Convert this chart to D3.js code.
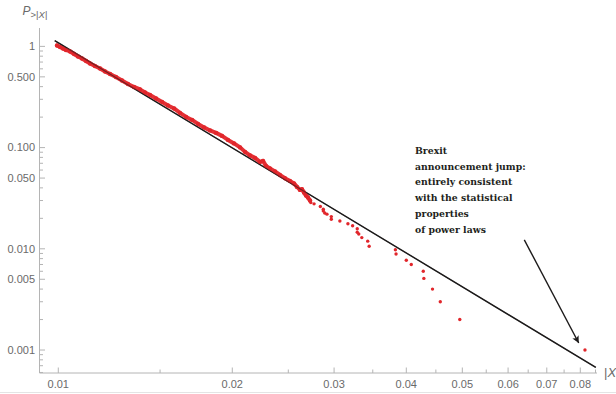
<!DOCTYPE html>
<html>
<head>
<meta charset="utf-8">
<script src="https://cdn.jsdelivr.net/npm/d3@7"></script>
<style>
  html, body { margin: 0; padding: 0; background: #fff; }
  svg { display: block; }
</style>
</head>
<body>
<svg id="chart" width="616" height="394"></svg>
<script>
// ---- data ----
// dense part of the empirical survival function
const denseX = [0.00995,0.01007,0.01019,0.01031,0.01048,0.01065,0.01082,0.01099,0.01117,0.01135,
  0.01157,0.01181,0.01205,0.01229,0.01258,0.01289,0.01320,0.01352,0.01385,0.01413,
  0.01441,0.01476,0.01512,0.01548,0.01586,0.01624,0.01664,0.01704,0.01745,0.01787,
  0.01830,0.01875,0.01920,0.01966,0.02014,0.02063,0.02104,0.02146,0.02189,0.02233,
  0.02260,0.02287,0.02324,0.02371,0.02418,0.02467,0.02516,0.02557,0.02588,0.02619,
  0.02640,0.02661,0.02683,0.02704,0.02726];
const denseP = [1.021,0.9865,0.9534,0.9215,0.8906,0.8414,0.7950,0.7597,0.7176,0.6779,
  0.6405,0.6051,0.5651,0.5339,0.4987,0.4606,0.4253,0.3974,0.3754,0.3507,
  0.3313,0.3060,0.2826,0.2610,0.2437,0.2201,0.2009,0.1877,0.1714,0.1583,
  0.1478,0.1397,0.1305,0.1191,0.1100,0.1005,0.0907,0.0838,0.0791,0.0722,
  0.0739,0.0660,0.0623,0.0582,0.0537,0.0499,0.0469,0.0443,0.0409,0.0382,
  0.0388,0.0360,0.0336,0.0321,0.0300];
// sparse tail points
const tailX = [0.02734,0.0277,0.0284,0.02874,0.02874,0.0289,0.02916,0.02967,0.02967,0.0307,
  0.0317,0.0323,0.0329,0.0329,0.0331,0.0335,0.0343,0.0345,0.0383,0.0384,
  0.0400,0.0408,0.0428,0.0429,0.0444,0.0458,0.0495,0.0815];
const tailP = [0.0286,0.0278,0.0262,0.0246,0.0237,0.0226,0.0220,0.0208,0.0196,0.0188,
  0.0177,0.0169,0.0158,0.0146,0.0140,0.0129,0.0119,0.0106,0.0098,0.0089,
  0.0077,0.0070,0.0060,0.0051,0.0040,0.0030,0.0020,0.0010];
// fitted power law line (endpoints)
const fitX = [0.00986, 0.0851];
const fitP = [1.138, 0.000673];
// annotation arrow (from, to)
const arrowX = [0.0640, 0.0795];
const arrowP = [0.01227, 0.001173];
// ticks
const xMajor = [0.01,0.02,0.03,0.04,0.05,0.06,0.07,0.08];
const xMajorLabels = ["0.01","0.02","0.03","0.04","0.05","0.06","0.07","0.08"];
const xMinor = [0.015,0.025,0.035,0.045,0.055,0.065,0.075,0.085];
const yMajor = [1,0.5,0.1,0.05,0.01,0.005,0.001];
const yMajorLabels = ["1","0.500","0.100","0.050","0.010","0.005","0.001"];
const yMinor = [0.9,0.8,0.7,0.6,0.4,0.3,0.2,0.09,0.08,0.07,0.06,0.04,0.03,0.02,
  0.009,0.008,0.007,0.006,0.004,0.003,0.002,0.0009,0.0008,0.0007,0.0006];
const noteLines = ["Brexit","announcement jump:","entirely consistent","with the statistical","properties","of power laws"];

// ---- drawing ----
const svg = d3.select("#chart");
const x = d3.scaleLog().domain([0.009279, 0.0855]).range([39.5, 597]);
const y = d3.scaleLog().domain([0.000593, 1.519]).range([373, 28]);

const axisColor = "#b4b4b4";
const labelColor = "#6a6a6a";
const font = "'Liberation Sans', Arial, sans-serif";

// bottom border line
svg.append("line").attr("x1",0).attr("x2",616).attr("y1",392.5).attr("y2",392.5)
  .attr("stroke","#e4e4e4").attr("stroke-width",1);

// axes
const xAxisG = svg.append("g").attr("transform","translate(0,373)");
xAxisG.append("line").attr("x1",x.range()[0]).attr("x2",x.range()[1])
  .attr("stroke",axisColor).attr("stroke-width",1);
xAxisG.selectAll("line.maj").data(xMajor).join("line").attr("class","maj")
  .attr("x1",d=>x(d)).attr("x2",d=>x(d)).attr("y1",0).attr("y2",-5.5)
  .attr("stroke",axisColor);
xAxisG.selectAll("line.min").data(xMinor).join("line").attr("class","min")
  .attr("x1",d=>x(d)).attr("x2",d=>x(d)).attr("y1",0).attr("y2",-3.5)
  .attr("stroke",axisColor);
xAxisG.selectAll("text").data(xMajor).join("text")
  .attr("x",d=>x(d)).attr("y",14.5).attr("text-anchor","middle")
  .attr("font-family",font).attr("font-size",11).attr("fill",labelColor)
  .text((d,i)=>xMajorLabels[i]);

const yAxisG = svg.append("g").attr("transform","translate(39.5,0)");
yAxisG.append("line").attr("y1",y.range()[0]).attr("y2",y.range()[1])
  .attr("stroke",axisColor).attr("stroke-width",1);
yAxisG.selectAll("line.maj").data(yMajor).join("line").attr("class","maj")
  .attr("y1",d=>y(d)).attr("y2",d=>y(d)).attr("x1",0).attr("x2",5.5)
  .attr("stroke",axisColor);
yAxisG.selectAll("line.min").data(yMinor).join("line").attr("class","min")
  .attr("y1",d=>y(d)).attr("y2",d=>y(d)).attr("x1",0).attr("x2",3.5)
  .attr("stroke",axisColor);
yAxisG.selectAll("text").data(yMajor).join("text")
  .attr("x",-4.5).attr("y",d=>y(d)).attr("dy","0.35em").attr("text-anchor","end")
  .attr("font-family",font).attr("font-size",11).attr("fill",labelColor)
  .text((d,i)=>yMajorLabels[i]);

// axis titles
const yt = svg.append("text").attr("x",22.5).attr("y",15)
  .attr("font-family",font).attr("fill",labelColor);
yt.append("tspan").attr("font-size",12).attr("font-style","italic").text("P");
yt.append("tspan").attr("font-size",9.5).attr("dy",3).text(">|");
yt.append("tspan").attr("font-size",9.5).attr("font-style","italic").text("X");
yt.append("tspan").attr("font-size",9.5).text("|");

const xt = svg.append("text").attr("x",604).attr("y",377)
  .attr("font-family",font).attr("font-size",13).attr("fill",labelColor);
xt.append("tspan").text("|");
xt.append("tspan").attr("font-style","italic").text("X");
xt.append("tspan").text("|");

// fit line
const red = "#e1262b";
svg.append("line")
  .attr("x1",x(fitX[0])).attr("y1",y(fitP[0]))
  .attr("x2",x(fitX[1])).attr("y2",y(fitP[1]))
  .attr("stroke","#1c1a1a").attr("stroke-width",1.4);

// dense band
const pts = denseX.map((d,i)=>[d,denseP[i]]);
svg.append("path").datum(pts)
  .attr("d", d3.line().x(d=>x(d[0])).y(d=>y(d[1])).curve(d3.curveLinear))
  .attr("fill","none").attr("stroke",red).attr("stroke-width",4)
  .attr("stroke-linejoin","round").attr("stroke-linecap","round").attr("opacity",0.95);
svg.selectAll("circle.dense").data(pts).join("circle").attr("class","dense")
  .attr("cx",d=>x(d[0])).attr("cy",d=>y(d[1])).attr("r",2.2).attr("fill",red);

// redraw fit line lightly on top to mimic overlap
svg.append("line")
  .attr("x1",x(fitX[0])).attr("y1",y(fitP[0]))
  .attr("x2",x(fitX[1])).attr("y2",y(fitP[1]))
  .attr("stroke","#1c1a1a").attr("stroke-width",1.1).attr("opacity",0.55);

// tail
const tpts = tailX.map((d,i)=>[d,tailP[i]]);
svg.selectAll("circle.tail").data(tpts).join("circle").attr("class","tail")
  .attr("cx",d=>x(d[0])).attr("cy",d=>y(d[1])).attr("r",1.7).attr("fill",red);

// arrow
const defs = svg.append("defs");
defs.append("marker").attr("id","ah").attr("viewBox","0 0 10 10")
  .attr("refX",10).attr("refY",5).attr("markerWidth",9).attr("markerHeight",7)
  .attr("markerUnits","userSpaceOnUse").attr("orient","auto")
  .append("path").attr("d","M0,0 L10,5 L0,10 L2.5,5 Z").attr("fill","#1c1a1a");
svg.append("line")
  .attr("x1",x(arrowX[0])).attr("y1",y(arrowP[0]))
  .attr("x2",x(arrowX[1])).attr("y2",y(arrowP[1]))
  .attr("stroke","#1c1a1a").attr("stroke-width",1.4).attr("marker-end","url(#ah)");

// annotation text
const note = svg.append("g");
const noteT = note.selectAll("text").data(noteLines).join("text")
  .attr("x",415).attr("y",(d,i)=>154+i*15.7)
  .attr("font-family","'DejaVu Serif', serif").attr("font-weight","bold")
  .attr("font-size",10).attr("fill","#231f20").text(d=>d);
const w = noteT.filter((d,i)=>i===1).node().getComputedTextLength();
const fs = 10*110.7/w;
noteT.attr("font-size",fs);
</script>
</body>
</html>
